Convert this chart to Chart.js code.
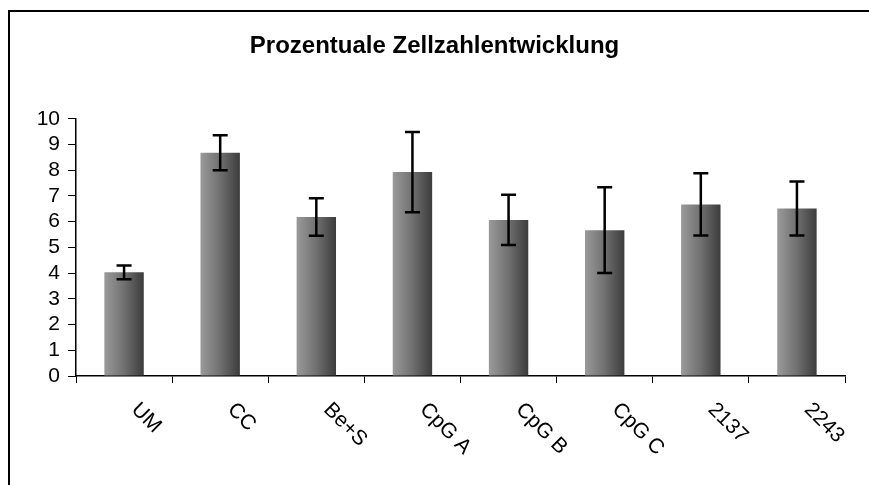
<!DOCTYPE html>
<html>
<head>
<meta charset="utf-8">
<script src="https://cdn.jsdelivr.net/npm/chart.js@4"></script>
<style>
  html, body { margin: 0; padding: 0; background: #fff; }
  #wrap { width: 869px; height: 485px; position: relative; }
</style>
</head>
<body>
<div id="wrap"><canvas id="chart" width="869" height="485"></canvas></div>
<script>
const categories = ["UM", "CC", "Be+S", "CpG A", "CpG B", "CpG C", "2137", "2243"];
const values = [4.03, 8.68, 6.18, 7.93, 6.07, 5.67, 6.67, 6.51];
const errors = [0.27, 0.68, 0.73, 1.56, 0.98, 1.67, 1.21, 1.05];
const yTicks = [0, 1, 2, 3, 4, 5, 6, 7, 8, 9, 10];

const FONT = "'Liberation Sans', Arial, sans-serif";
const BAR_PCT = 0.41;

// each bar gets its own left-to-right gradient (light -> dark)
function barGradient(ctx) {
    const chart = ctx.chart;
    const xs = chart.scales.x;
    if (!xs || !chart.chartArea) return "#777";
    const cx = xs.getPixelForValue(ctx.dataIndex);
    const w = xs.width / categories.length * BAR_PCT;
    const g = chart.ctx.createLinearGradient(cx - w / 2, 0, cx + w / 2, 0);
    g.addColorStop(0, "#9a9a9a");
    g.addColorStop(0.5, "#707070");
    g.addColorStop(1, "#3c3c3c");
    return g;
}

const frame = {
    id: "frame",
    beforeDraw(chart) {
        const ctx = chart.ctx;
        ctx.save();
        ctx.fillStyle = "#fff";
        ctx.fillRect(0, 0, chart.width, chart.height);
        ctx.strokeStyle = "#000";
        ctx.lineWidth = 2;
        ctx.strokeRect(9, 11, chart.width + 20, chart.height + 20);
        ctx.restore();
    }
};

const errorBars = {
    id: "errorBars",
    afterDatasetsDraw(chart) {
        const ctx = chart.ctx;
        const ys = chart.scales.y;
        const meta = chart.getDatasetMeta(0);
        ctx.save();
        ctx.strokeStyle = "#000";
        ctx.lineWidth = 2.5;
        meta.data.forEach((bar, i) => {
            const x = bar.x;
            const top = ys.getPixelForValue(values[i] + errors[i]);
            const bot = ys.getPixelForValue(values[i] - errors[i]);
            ctx.beginPath();
            ctx.moveTo(x, top); ctx.lineTo(x, bot);
            ctx.moveTo(x - 7.5, top); ctx.lineTo(x + 7.5, top);
            ctx.moveTo(x - 7.5, bot); ctx.lineTo(x + 7.5, bot);
            ctx.stroke();
        });
        ctx.restore();
    }
};

// category labels run downwards to the right, which the built-in rotation can't do
const slantLabels = {
    id: "slantLabels",
    afterDraw(chart) {
        const ctx = chart.ctx;
        const xs = chart.scales.x;
        ctx.save();
        ctx.font = "21px " + FONT;
        ctx.fillStyle = "#000";
        ctx.textAlign = "left";
        ctx.textBaseline = "top";
        categories.forEach((lab, i) => {
            const x = xs.getPixelForValue(i);
            ctx.save();
            ctx.translate(x + 18, 399);
            ctx.rotate(Math.PI / 4);
            ctx.fillText(lab, 0, 0);
            ctx.restore();
        });
        ctx.restore();
    }
};

new Chart(document.getElementById("chart"), {
    type: "bar",
    data: {
        labels: categories,
        datasets: [{
            data: values,
            backgroundColor: barGradient,
            borderWidth: 0,
            barPercentage: BAR_PCT,
            categoryPercentage: 1
        }]
    },
    options: {
        responsive: false,
        animation: false,
        layout: { padding: { left: 24, right: 24, top: 0, bottom: 0 } },
        plugins: {
            legend: { display: false },
            tooltip: { enabled: false },
            title: {
                display: true,
                text: "Prozentuale Zellzahlentwicklung",
                color: "#000",
                font: { family: FONT, size: 24, weight: "bold" },
                padding: { top: 32, bottom: 58 }
            }
        },
        scales: {
            x: {
                grid: { drawOnChartArea: false, tickLength: 7, color: "#000", offset: true },
                border: { color: "#000", width: 1.5 },
                ticks: { display: false },
                afterFit(scale) { scale.height = 109; }
            },
            y: {
                min: 0,
                max: 10,
                afterBuildTicks(scale) { scale.ticks = yTicks.map(v => ({ value: v })); },
                grid: { drawOnChartArea: false, tickLength: 8, color: "#000" },
                border: { color: "#000", width: 1.5 },
                ticks: {
                    color: "#000",
                    padding: 8,
                    autoSkip: false,
                    font: { family: FONT, size: 21 }
                },
                afterFit(scale) { scale.width = 52; }
            }
        }
    },
    plugins: [frame, errorBars, slantLabels]
});
</script>
</body>
</html>
